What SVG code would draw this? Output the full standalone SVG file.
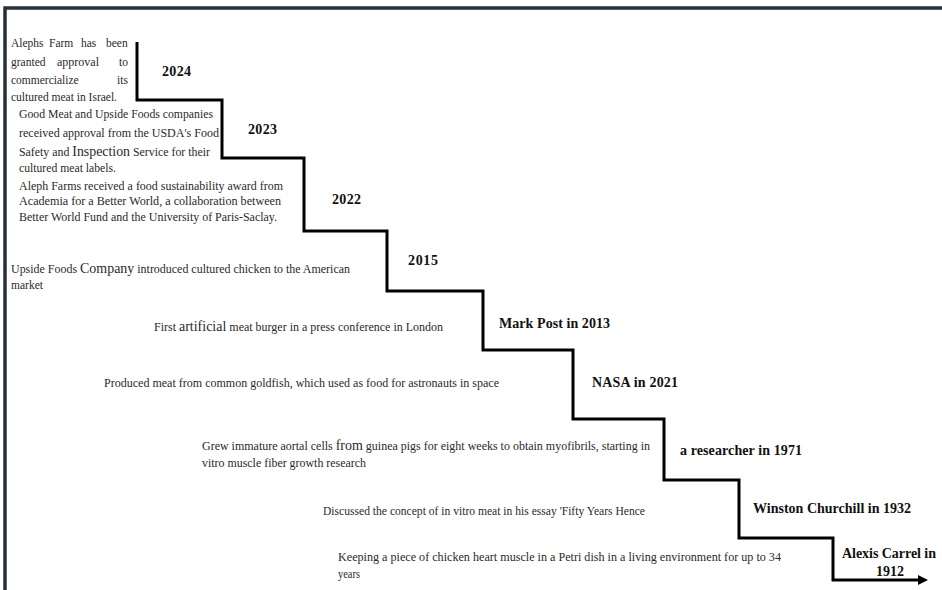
<svg xmlns="http://www.w3.org/2000/svg" width="942" height="590" viewBox="0 0 942 590">
<style>
.d{font-family:"Liberation Serif","Times New Roman",serif;font-size:12px;fill:#2a2a2a}
.s{font-size:11.5px}
.b{font-size:14px}
.y{font-family:"Liberation Serif","Times New Roman",serif;font-size:14px;font-weight:bold;fill:#111}
.st{fill:none;stroke:#000;stroke-width:3;stroke-linejoin:miter}
</style>
<defs>
<marker id="ah" markerWidth="10" markerHeight="10" refX="6" refY="5" orient="auto" markerUnits="userSpaceOnUse">
<path d="M0,0 L10,5 L0,10 Z" fill="#000"/>
</marker>
</defs>
<rect width="942" height="590" fill="#fff"/>
<g id="frame">
<path d="M5,590 V8 H942" fill="none" stroke="#26303a" stroke-width="3.5"/>
</g>
<g id="connectors">
<path class="st" d="M137,42 V100 H222 V158 H304 V231 H387 V291 H483 V350 H573 V419 H664 V480 H739 V538 H833 V580 H924" marker-end="url(#ah)"/>
</g>
<g id="n2024">
<text class="y" x="162" y="76" textLength="29">2024</text>
<text class="d s" x="11" y="47">Alephs</text>
<text class="d s" x="49" y="47">Farm</text>
<text class="d s" x="81" y="47">has</text>
<text class="d s" x="106" y="47">been</text>
<text class="d s" x="11" y="66">granted</text>
<text class="d" x="57" y="66" font-size="13.5px" textLength="42" lengthAdjust="spacingAndGlyphs">approval</text>
<text class="d s" x="119" y="66">to</text>
<text class="d s" x="11" y="84">commercialize</text>
<text class="d s" x="117" y="84">its</text>
<text class="d s" x="11" y="101" textLength="106" lengthAdjust="spacingAndGlyphs">cultured meat in Israel.</text>
</g>
<g id="n2023">
<text class="y" x="248" y="134" textLength="29">2023</text>
<text class="d" x="19" y="118" textLength="194" lengthAdjust="spacingAndGlyphs">Good Meat and Upside Foods companies</text>
<text class="d" x="19" y="137" textLength="200" lengthAdjust="spacingAndGlyphs">received approval from the USDA's Food</text>
<text class="d" x="19" y="156" textLength="191" lengthAdjust="spacingAndGlyphs">Safety and <tspan class="b">Inspection</tspan> Service for their</text>
<text class="d" x="19" y="172" textLength="97" lengthAdjust="spacingAndGlyphs">cultured meat labels.</text>
</g>
<g id="n2022">
<text class="y" x="332" y="204" textLength="29">2022</text>
<text class="d" x="19" y="190" textLength="264" lengthAdjust="spacingAndGlyphs">Aleph Farms received a food sustainability award from</text>
<text class="d" x="19" y="205" textLength="262" lengthAdjust="spacingAndGlyphs">Academia for a Better World, a collaboration between</text>
<text class="d" x="19" y="221" textLength="258" lengthAdjust="spacingAndGlyphs">Better World Fund and the University of Paris-Saclay.</text>
</g>
<g id="n2015">
<text class="y" x="408" y="265" textLength="30">2015</text>
<text class="d" x="11" y="273" textLength="339" lengthAdjust="spacingAndGlyphs">Upside Foods <tspan class="b">Company</tspan> introduced cultured chicken to the American</text>
<text class="d" x="11" y="289" textLength="32" lengthAdjust="spacingAndGlyphs">market</text>
</g>
<g id="n2013">
<text class="y" x="499" y="328" textLength="111">Mark Post in 2013</text>
<text class="d" x="154" y="331" textLength="289" lengthAdjust="spacingAndGlyphs">First <tspan class="b">artificial</tspan> meat burger in a press conference in London</text>
</g>
<g id="n2021">
<text class="y" x="592" y="387" textLength="86">NASA in 2021</text>
<text class="d" x="104" y="387" textLength="395" lengthAdjust="spacingAndGlyphs">Produced meat from common goldfish, which used as food for astronauts in space</text>
</g>
<g id="n1971">
<text class="y" x="680" y="455" textLength="122">a researcher in 1971</text>
<text class="d" x="202" y="450" textLength="448" lengthAdjust="spacingAndGlyphs">Grew immature aortal cells <tspan class="b">from</tspan> guinea pigs for eight weeks to obtain myofibrils, starting in</text>
<text class="d" x="202" y="467" textLength="164" lengthAdjust="spacingAndGlyphs">vitro muscle fiber growth research</text>
</g>
<g id="n1932">
<text class="y" x="753" y="513" textLength="158">Winston Churchill in 1932</text>
<text class="d" x="323" y="515" textLength="322" lengthAdjust="spacingAndGlyphs">Discussed the concept of in vitro meat in his essay 'Fifty Years Hence</text>
</g>
<g id="n1912">
<text class="y" x="842" y="558" textLength="94">Alexis Carrel in</text>
<text class="y" x="876" y="576" textLength="28">1912</text>
<text class="d" x="338" y="561" textLength="443" lengthAdjust="spacingAndGlyphs">Keeping a piece of chicken heart muscle in a Petri dish in a living environment for up to 34</text>
<text class="d" x="338" y="578" textLength="22" lengthAdjust="spacingAndGlyphs">years</text>
</g>
</svg>
